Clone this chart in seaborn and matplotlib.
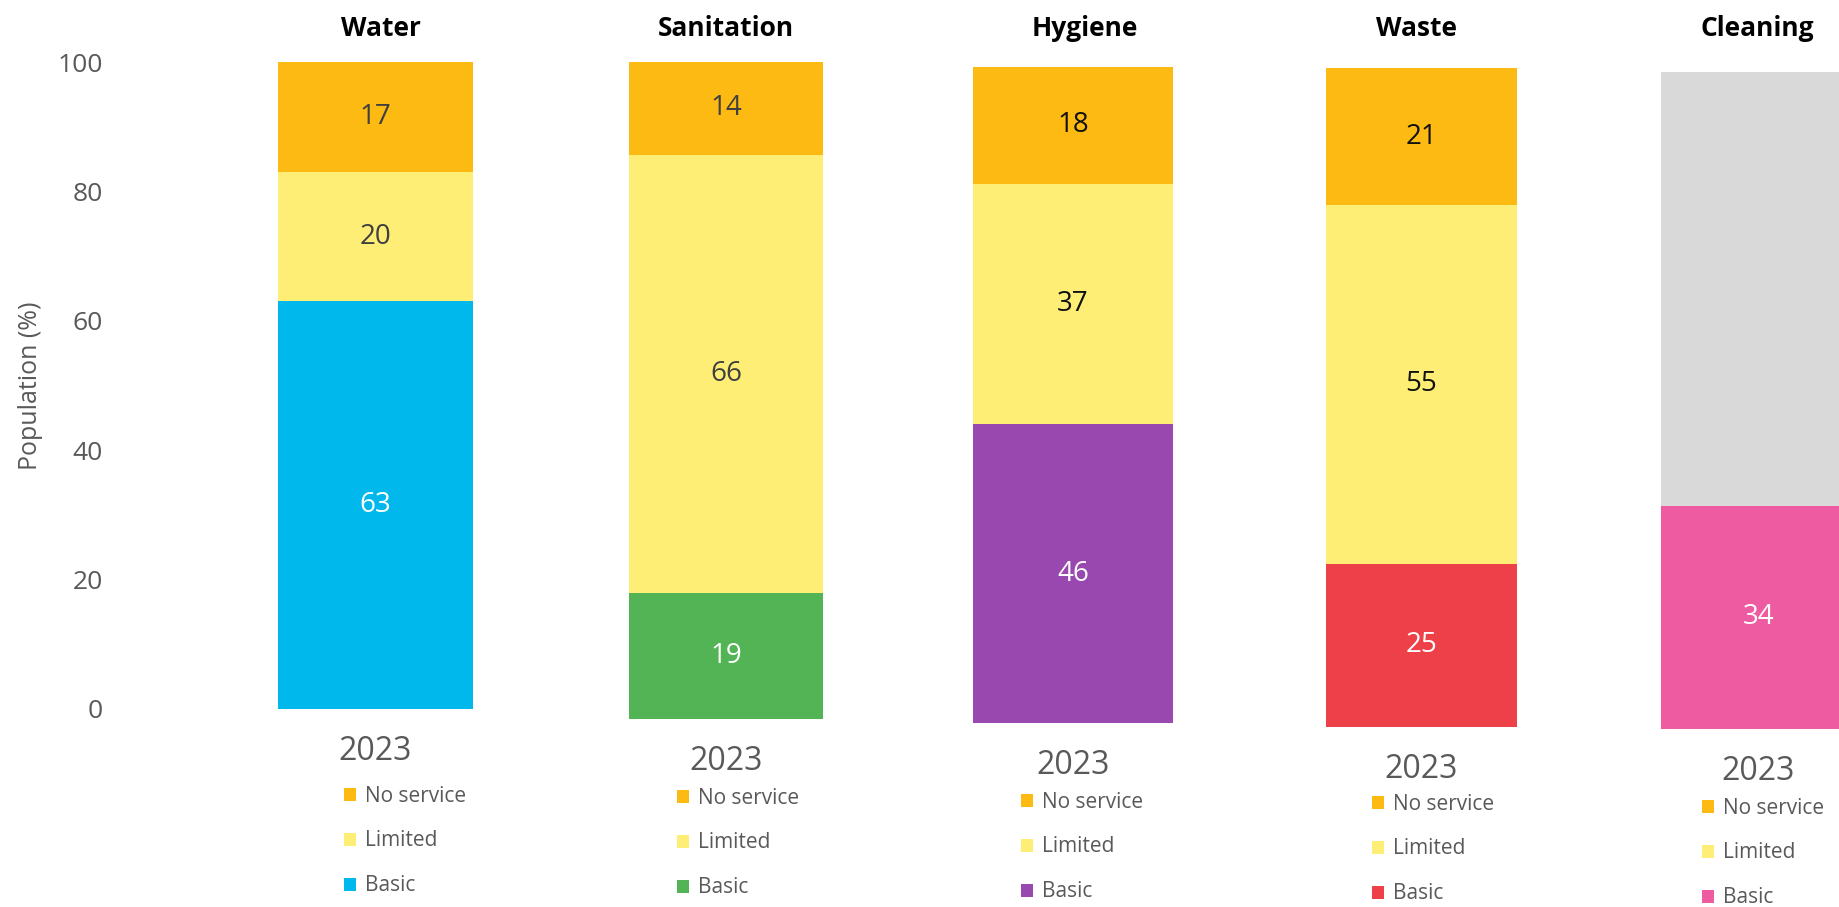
import matplotlib
matplotlib.use("Agg")
import matplotlib.pyplot as plt
from matplotlib.patches import Patch
import seaborn as sns
import pandas as pd

# ---------------- data ----------------
panels = ["Water", "Sanitation", "Hygiene", "Waste", "Cleaning"]
year = "2023"
basic = [63, 19, 46, 25, 34]
limited = [20, 66, 37, 55, 0]
no_service = [17, 14, 18, 21, 0]
no_data = [0, 0, 0, 0, 66]          # grey, unlabelled part of the Cleaning bar
legend_labels = ["No service", "Limited", "Basic"]
y_ticks = [0, 20, 40, 60, 80, 100]

# ---------------- styles ----------------
ORANGE = "#FDBA12"
YELLOW = "#FFEE75"
GRAY = "#D9D9D9"
basic_colors = ["#00B8EB", "#52B455", "#9848AE", "#EE4049", "#EE5BA0"]
label_dark = ["#404040", "#404040", "#111111", "#111111", "#404040"]
TXT = "#595959"

# ---------------- layout (pixels) ----------------
W, H = 1839, 907
bar_left = [278, 629, 973, 1326, 1661]
bar_right = [473, 823, 1173, 1517, 1856]
bar_top = [62, 62, 67, 68, 72]
bar_bottom = [709, 719, 723, 727, 729]
title_x = [381, 726, 1085, 1417, 1757]
legend_x = [344, 677, 1021, 1372, 1702]
legend_mid_y = [841, 843, 847, 849, 853]
water_axis_left = 110

sns.set_style("white")
plt.rcParams["font.family"] = ["Open Sans", "DejaVu Sans"]

fig = plt.figure(figsize=(W / 100, H / 100), dpi=100)

for i, name in enumerate(panels):
    left_px = water_axis_left if i == 0 else bar_left[i]
    ax = fig.add_axes([left_px / W, 1 - bar_bottom[i] / H,
                       (bar_right[i] - left_px) / W,
                       (bar_bottom[i] - bar_top[i]) / H])
    if no_data[i] > 0:
        segs = [(basic[i], basic_colors[i], True, "white"),
                (no_data[i], GRAY, False, None)]
    else:
        segs = [(basic[i], basic_colors[i], True, "white"),
                (limited[i], YELLOW, True, label_dark[i]),
                (no_service[i], ORANGE, True, label_dark[i])]
    total = sum(s[0] for s in segs)
    # cumulative tops, drawn largest first so the stack shows
    cums = []
    c = 0
    for v, col, _, _ in segs:
        c += v
        cums.append(c)
    for (v, col, _, _), top in reversed(list(zip(segs, cums))):
        df = pd.DataFrame({"year": [year], "value": [top]})
        sns.barplot(data=df, x="year", y="value", color=col, width=1,
                    saturation=1, linewidth=0, ax=ax)
    # value labels
    for (v, col, show, tcol), top in zip(segs, cums):
        if show and v > 0:
            ax.text(0, top - v / 2, str(v), ha="center", va="center",
                    fontsize=20, color=tcol)
    bw = bar_right[i] - bar_left[i]
    extra = (bar_left[i] - left_px) / bw
    ax.set_xlim(-0.5 - extra, 0.5)
    ax.set_ylim(0, total)
    ax.set_xlabel("")
    ax.set_ylabel("")
    for s in ax.spines.values():
        s.set_visible(False)
    ax.tick_params(axis="x", length=0, pad=19, labelsize=23, labelcolor=TXT)
    if i == 0:
        ax.set_yticks(y_ticks)
        ax.tick_params(axis="y", length=0, pad=5, labelsize=19, labelcolor=TXT)
    else:
        ax.set_yticks([])
    ax.patch.set_alpha(0)

    fig.text(title_x[i] / W, 1 - 28 / H, name, ha="center", va="center",
             fontsize=19, fontweight="bold", color="black")

    handles = [Patch(facecolor=ORANGE, edgecolor="none"),
               Patch(facecolor=YELLOW, edgecolor="none"),
               Patch(facecolor=basic_colors[i], edgecolor="none")]
    ax.legend(handles, legend_labels, loc="center left",
              bbox_to_anchor=(legend_x[i] / W, 1 - legend_mid_y[i] / H),
              bbox_transform=fig.transFigure, frameon=False, fontsize=15,
              labelcolor=TXT, handlelength=0.58, handleheight=0.58,
              handletextpad=0.45, labelspacing=1.15, borderpad=0,
              borderaxespad=0)

fig.text(31 / W, 1 - 386 / H, "Population (%)", rotation=90, ha="center",
         va="center", fontsize=18, color=TXT)

fig.savefig("out.png", dpi=100)
